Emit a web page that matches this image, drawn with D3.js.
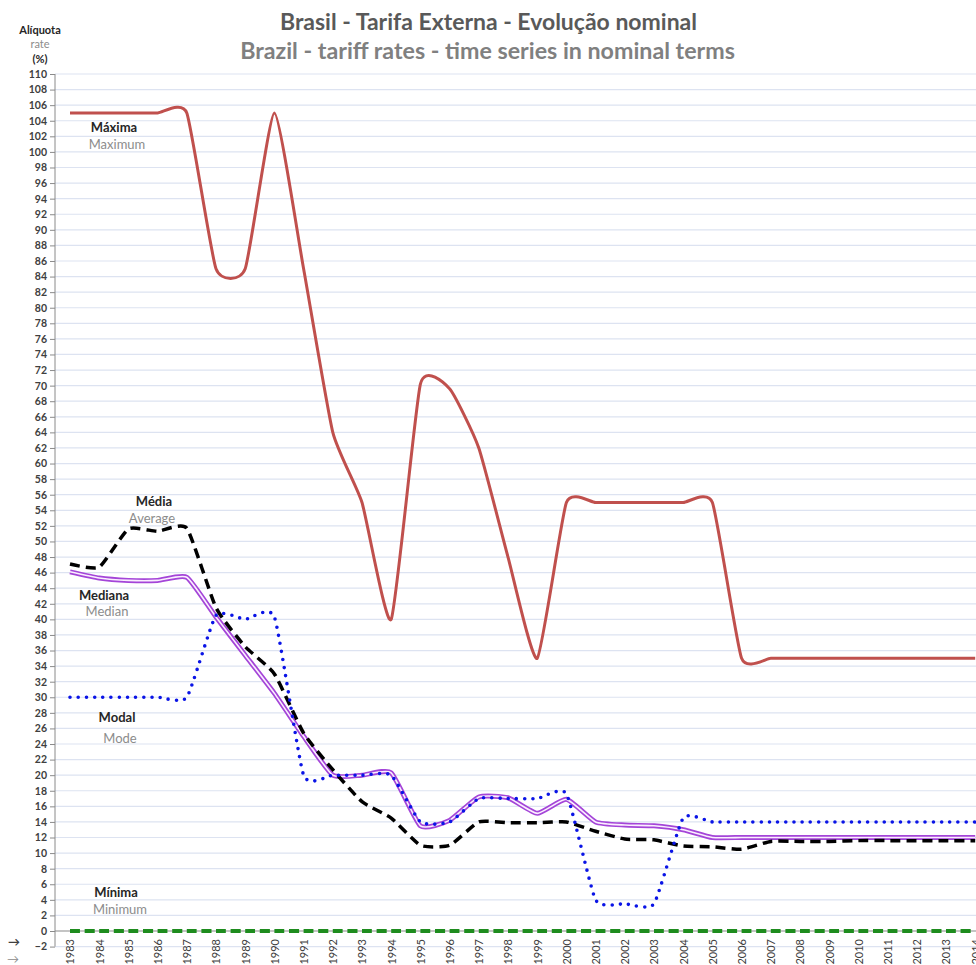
<!DOCTYPE html>
<html>
<head>
<meta charset="utf-8">
<script src="https://cdn.jsdelivr.net/npm/d3@7"></script>
<style>
  html, body { margin: 0; padding: 0; background: #fff; overflow: hidden; }
  svg { display: block; font-family: Lato, "Open Sans", sans-serif; }
</style>
</head>
<body>
<svg id="chart" width="976" height="965"></svg>
<script>
// ---- data ----
const years = d3.range(1983, 2015);
const maxima  = [105,105,105,105,105,85,85,105,85,64,55,40,70.2,69.6,62,48,35,55,55,55,55,55,55,35,35,35,35,35,35,35,35,35];
const average = [47.1,46.7,51.6,51.3,51.7,41.5,36.5,33,25.4,20.7,16.6,14.5,11,11,14,13.9,13.9,14,12.8,11.8,11.7,10.9,10.8,10.5,11.5,11.5,11.5,11.6,11.6,11.6,11.6,11.6];
const median  = [46.1,45.3,45,45,45.4,40.3,35.4,30.5,25,20,20,20.3,13.5,14.2,17.2,17.1,15.1,16.9,14,13.6,13.5,13,12,12,12,12,12,12,12,12,12,12];
const modal   = [30,30,30,30,30,40.5,40,40.3,20,20,20,20,14,14,17,17,17,17.6,4,3.5,3.5,14.5,14,14,14,14,14,14,14,14,14,14];
const minima  = years.map(() => 0);
const yTicks  = d3.range(-2, 111, 2);

const titlePT = "Brasil - Tarifa Externa - Evolução nominal";
const titleEN = "Brazil - tariff rates - time series in nominal terms";

const svg = d3.select("#chart");

// ---- scales ----
const x = d3.scalePoint().domain(years).range([70, 70 + 29.2 * 31]);
const y = d3.scaleLinear().domain([0, 110]).range([931, 74]);
const xLeft = 55;

// ---- gridlines ----
svg.append("g").selectAll("line").data(yTicks).join("line")
  .attr("x1", xLeft).attr("x2", 976)
  .attr("y1", d => y(d)).attr("y2", d => y(d))
  .attr("stroke", d => d === 0 ? "#8a8a8a" : "#dde3f1")
  .attr("stroke-width", 1.2);

// ---- y axis ----
const yAxis = d3.axisLeft(y).tickValues(yTicks).tickSize(5).tickPadding(3).tickFormat(d3.format("d"));
const gy = svg.append("g").attr("transform", `translate(${xLeft},0)`).call(yAxis);
gy.select(".domain").attr("stroke", "#8a8a8a").attr("d", `M0,${y(110)}V${y(-2)}`);
gy.selectAll(".tick line").attr("stroke", "#8a8a8a");
gy.selectAll(".tick text").attr("fill", "#404040").style("font-size", "10.5px").style("font-weight", "bold")
  .style("font-family", "Lato, sans-serif");

// ---- x axis (labels rotated) ----
const xAxis = d3.axisBottom(x).tickSize(0).tickPadding(0);
const gx = svg.append("g").attr("transform", `translate(0,${y(0)})`).call(xAxis);
gx.select(".domain").remove();
gx.selectAll(".tick text")
  .attr("transform", "rotate(-90)")
  .attr("x", -8).attr("y", 0).attr("dy", "0.35em")
  .attr("text-anchor", "end")
  .attr("fill", "#404040").style("font-size", "11px")
  .style("font-family", "Lato, sans-serif");

// ---- lines ----
const curve = d3.curveCardinal.tension(0.5);
const line = vals => d3.line().curve(curve).x((d, i) => x(years[i])).y(d => y(d))(vals);

const gl = svg.append("g").attr("fill", "none");
gl.append("path").attr("d", line(maxima)).attr("stroke", "#c0504d").attr("stroke-width", 3);
gl.append("path").attr("d", line(median)).attr("stroke", "#a445d8").attr("stroke-width", 5);
gl.append("path").attr("d", line(median)).attr("stroke", "#fbeeff").attr("stroke-width", 1.6);
gl.append("path").attr("d", line(average)).attr("stroke", "#000").attr("stroke-width", 3.5)
  .attr("stroke-dasharray", "10,6");
gl.append("path").attr("d", line(modal)).attr("stroke", "#0a14e6").attr("stroke-width", 3.6)
  .attr("stroke-dasharray", "0,8.2").attr("stroke-linecap", "round");
gl.append("path").attr("d", line(minima)).attr("stroke", "#1e8c1e").attr("stroke-width", 4)
  .attr("stroke-dasharray", "10,4.6");

// ---- labels ----
const labels = [
  ["Máxima", 114, 132, true], ["Maximum", 117, 149, false],
  ["Média", 154, 506, true], ["Average", 152, 523, false],
  ["Mediana", 104, 600, true], ["Median", 107, 616, false],
  ["Modal", 117, 722, true], ["Mode", 120, 743, false],
  ["Mínima", 116, 897, true], ["Minimum", 120, 914, false]
];
svg.append("g").selectAll("text").data(labels).join("text")
  .attr("x", d => d[1]).attr("y", d => d[2]).attr("text-anchor", "middle")
  .attr("fill", d => d[3] ? "#262626" : "#8c8c8c")
  .style("font-size", "13px").style("font-weight", d => d[3] ? "bold" : "normal")
  .text(d => d[0]);

// axis title
svg.append("text").attr("x", 40).attr("y", 34).attr("text-anchor", "middle")
  .attr("fill", "#262626").style("font-size", "11px").style("font-weight", "bold").text("Alíquota");
svg.append("text").attr("x", 40).attr("y", 48).attr("text-anchor", "middle")
  .attr("fill", "#8c8c8c").style("font-size", "11px").text("rate");
svg.append("text").attr("x", 40).attr("y", 63).attr("text-anchor", "middle")
  .attr("fill", "#262626").style("font-size", "11px").style("font-weight", "bold").text("(%)");

// arrows bottom left
svg.append("text").attr("x", 14).attr("y", 946).attr("text-anchor", "middle")
  .attr("fill", "#404040").style("font-size", "12px").style("font-weight", "bold").text("→");
svg.append("text").attr("x", 13).attr("y", 963).attr("text-anchor", "middle")
  .attr("fill", "#8c8c8c").style("font-size", "12px").text("→");

// titles, fitted to width
function fitText(txt, cx, yb, width, color) {
  const t = svg.append("text").attr("x", cx).attr("y", yb).attr("text-anchor", "middle")
    .attr("fill", color).style("font-weight", "bold").style("font-size", "20px").text(txt);
  const w = t.node().getComputedTextLength();
  t.style("font-size", (20 * width / w).toFixed(2) + "px");
}
fitText(titlePT, 488.5, 30, 417, "#595959");
fitText(titleEN, 487.5, 59, 495, "#808080");
</script>
</body>
</html>
